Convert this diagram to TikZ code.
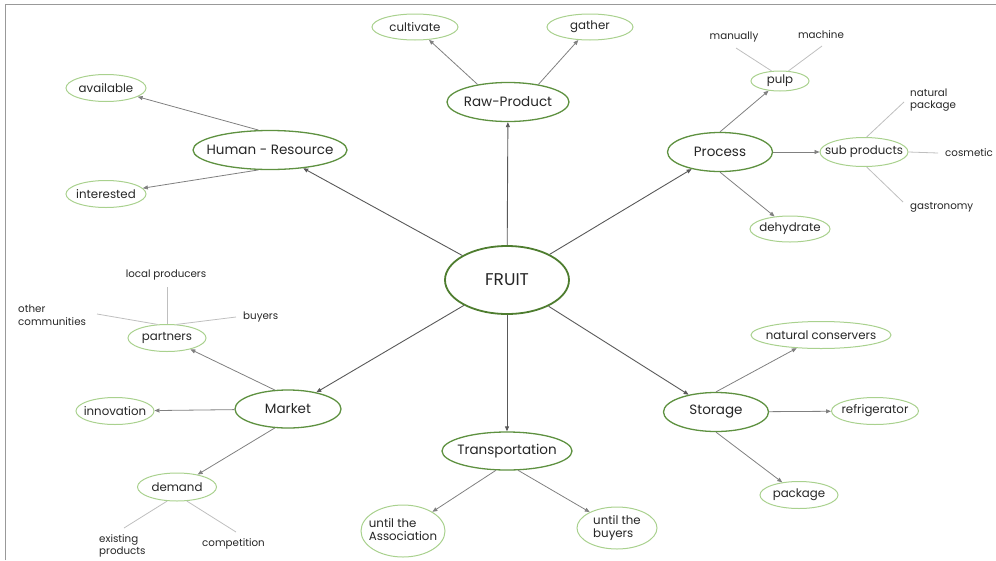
\documentclass[tikz,border=0pt]{standalone}
\usepackage{fontspec}
\setmainfont{Poppins}
\usetikzlibrary{shapes.geometric,arrows.meta}
\definecolor{hubgreen}{HTML}{4E7D2F}
\definecolor{maingreen}{HTML}{5E9140}
\definecolor{leafgreen}{HTML}{A9D18E}
\definecolor{inkgray}{HTML}{262626}
% text that does not widen the ellipse around it
\newcommand\inell[1]{\makebox[0pt][c]{#1}}
\newcommand\twolines[2]{\inell{\begin{tabular}{@{}l@{}}#1\\#2\end{tabular}}}
\tikzset{
  hub/.style={ellipse, draw=hubgreen, line width=1.8pt, inner sep=0pt, text=inkgray, font=\fontsize{17}{19}\selectfont},
  topic/.style={ellipse, draw=maingreen, line width=1.3pt, inner sep=0pt, text=inkgray, font=\fontsize{13.5}{15}\selectfont},
  leaf/.style={ellipse, draw=leafgreen, line width=1pt, inner sep=0pt, text=inkgray, font=\fontsize{11.8}{13}\selectfont},
  note/.style={inner sep=0pt, text=inkgray, font=\fontsize{10.3}{12.5}\selectfont, align=left},
  mainarrow/.style={draw=black!65, line width=0.9pt, -{Triangle[length=5pt,width=4pt]}},
  subarrow/.style={draw=black!50, line width=0.8pt, -{Triangle[length=5pt,width=4pt]}},
  twig/.style={draw=black!25, line width=0.8pt},
}
\begin{document}
\begin{tikzpicture}[x=1pt,y=-1pt]
\useasboundingbox (0,0) rectangle (996,560);
% frame
\draw[black!40, line width=1pt] (5,560) -- (5,4) -- (996,4);

% centre
\node[hub, minimum width=124pt, minimum height=68pt] (fruit) at (507,280) {\inell{FRUIT}};

% main topics
\node[topic, minimum width=122pt, minimum height=39pt] (raw) at (508,102) {\inell{Raw-Product}};
\node[topic, minimum width=154pt, minimum height=39pt] (human) at (270,150) {\inell{Human - Resource}};
\node[topic, minimum width=105pt, minimum height=39pt] (process) at (720,152) {\inell{Process}};
\node[topic, minimum width=106pt, minimum height=38pt] (market) at (288,409) {\inell{Market}};
\node[topic, minimum width=105pt, minimum height=39pt] (storage) at (716,412) {\inell{Storage}};
\node[topic, minimum width=130pt, minimum height=38pt] (transport) at (507,451) {\inell{Transportation}};

% leaves
\node[leaf, minimum width=86pt, minimum height=26pt] (cultivate) at (415,27) {\inell{cultivate}};
\node[leaf, minimum width=86pt, minimum height=26pt] (gather) at (590,27) {\inell{gather}};
\node[leaf, minimum width=80pt, minimum height=27pt] (available) at (106,88) {\inell{available}};
\node[leaf, minimum width=80pt, minimum height=27pt] (interested) at (106,194) {\inell{interested}};
\node[leaf, minimum width=58pt, minimum height=20pt] (pulp) at (780,81) {\inell{pulp}};
\node[leaf, minimum width=88pt, minimum height=29pt] (subprod) at (864,152) {\inell{sub products}};
\node[leaf, minimum width=80pt, minimum height=26pt] (dehydrate) at (790,229) {\inell{dehydrate}};
\node[leaf, minimum width=78pt, minimum height=27pt] (partners) at (167,338) {\inell{partners}};
\node[leaf, minimum width=78pt, minimum height=27pt] (innovation) at (115,411) {\inell{innovation}};
\node[leaf, minimum width=79pt, minimum height=28pt] (demand) at (177,487) {\inell{demand}};
\node[leaf, minimum width=84pt, minimum height=52pt] (untilassoc) at (403,531) {\twolines{until the}{Association}};
\node[leaf, minimum width=80pt, minimum height=42pt] (untilbuyers) at (617,528) {\twolines{until the}{buyers}};
\node[leaf, minimum width=140pt, minimum height=27pt] (conservers) at (821,335) {\inell{natural conservers}};
\node[leaf, minimum width=87pt, minimum height=27pt] (fridge) at (875,411) {\inell{refrigerator}};
\node[leaf, minimum width=78pt, minimum height=27pt] (package) at (799,495) {\inell{package}};

% free-standing notes
\node[note] (manually) at (734,37) {manually};
\node[note] (machine) at (821,35) {machine};
\node[note, anchor=west] (natpack) at (910,100) {natural\\package};
\node[note, anchor=west] (cosmetic) at (945,153) {cosmetic};
\node[note, anchor=west] (gastro) at (910,207) {gastronomy};
\node[note] (localprod) at (166,275) {local producers};
\node[note, anchor=west] (othercom) at (18,315) {other\\communities};
\node[note, anchor=west] (buyers) at (243,317) {buyers};
\node[note, anchor=west] (existing) at (99,546) {existing\\products};
\node[note, anchor=west] (competition) at (202,544) {competition};

% points where the plain lines stop short of the notes
\coordinate (tManually) at (736,48);
\coordinate (tMachine) at (822,46);
\coordinate (tNatpack) at (904,102);
\coordinate (tCosmetic) at (938,153);
\coordinate (tGastro) at (903,202);
\coordinate (tLocal) at (167,287);
\coordinate (tOther) at (97,314);
\coordinate (tBuyers) at (236,317);
\coordinate (tExisting) at (124,528);
\coordinate (tCompetition) at (236,532);

% centre to topics
\draw[mainarrow] (fruit) -- (raw);
\draw[mainarrow] (fruit) -- (human);
\draw[mainarrow] (fruit) -- (process);
\draw[mainarrow] (fruit) -- (market);
\draw[mainarrow] (fruit) -- (storage);
\draw[mainarrow] (fruit) -- (transport);

% topics to leaves
\draw[subarrow] (raw.150) -- (cultivate);
\draw[subarrow] (raw.30) -- (gather);
\draw[subarrow] (human.120) -- (available);
\draw[subarrow] (human.240) -- (interested);
\draw[subarrow] (process.90) -- (pulp);
\draw[subarrow] (process) -- (subprod);
\draw[subarrow] (process.270) -- (dehydrate);
\draw[subarrow] (market.125) -- (partners);
\draw[subarrow] (market) -- (innovation);
\draw[subarrow] (market.235) -- (demand);
\draw[subarrow] (transport.240) -- (untilassoc);
\draw[subarrow] (transport.300) -- (untilbuyers);
\draw[subarrow] (storage.90) -- (conservers);
\draw[subarrow] (storage) -- (fridge);
\draw[subarrow] (storage.270) -- (package);

% plain twigs
\draw[twig] (pulp.130) -- (tManually);
\draw[twig] (pulp.50) -- (tMachine);
\draw[twig] (subprod.80) -- (tNatpack);
\draw[twig] (subprod.east) -- (tCosmetic);
\draw[twig] (subprod.280) -- (tGastro);
\draw[twig] (partners.90) -- (tLocal);
\draw[twig] (partners.125) -- (tOther);
\draw[twig] (partners.55) -- (tBuyers);
\draw[twig] (demand.235) -- (tExisting);
\draw[twig] (demand.305) -- (tCompetition);
\end{tikzpicture}
\end{document}
